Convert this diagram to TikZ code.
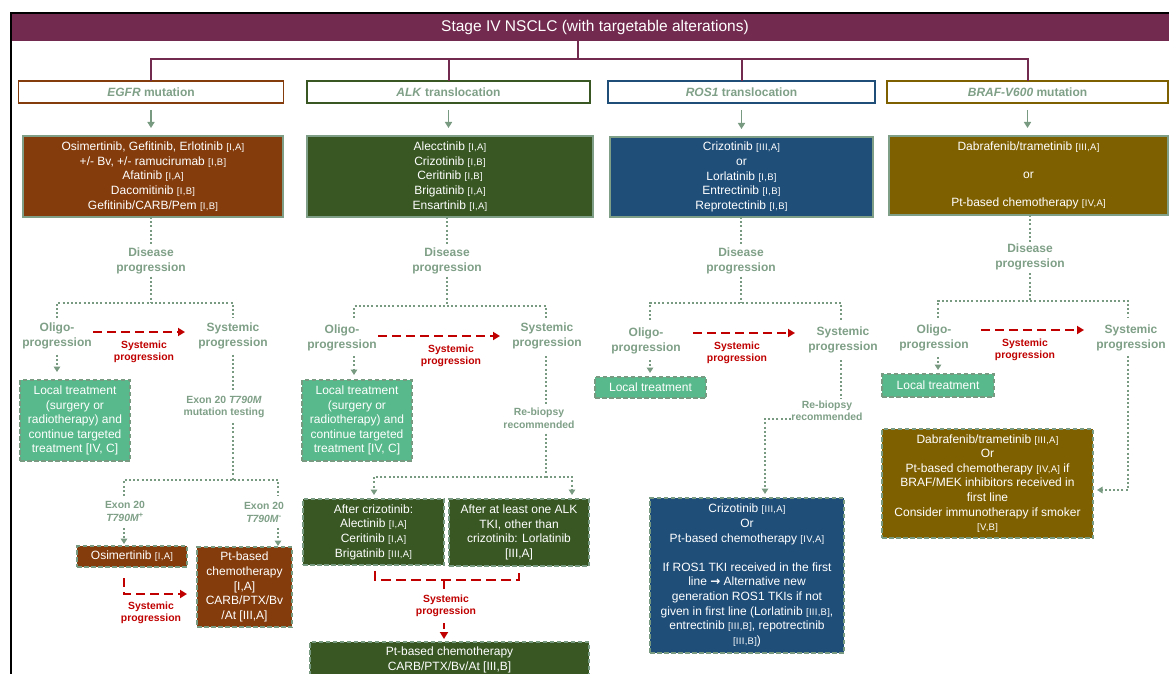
\documentclass[tikz,border=0pt]{standalone}
\usepackage{fontspec}
\setmainfont{Liberation Sans}
\newfontfamily\djv{DejaVu Sans}
\newfontfamily\tagf[LetterSpace=3]{Liberation Sans}
\usetikzlibrary{arrows.meta}
\definecolor{hdr}{HTML}{722A4E}
\definecolor{brn}{HTML}{843C0C}
\definecolor{dgr}{HTML}{385723}
\definecolor{dbl}{HTML}{1F4E79}
\definecolor{olv}{HTML}{7F6000}
\definecolor{sage}{HTML}{7FA087}
\definecolor{sagel}{HTML}{789A80}
\definecolor{mint}{HTML}{58BA8C}
\definecolor{rd}{HTML}{C00000}
\newcommand{\tg}[1]{{\tagf\fontsize{9.5}{14.5}\selectfont[#1]}}
\begin{document}
\begin{tikzpicture}[x=1pt,y=-1pt,
 every node/.style={inner sep=0pt, outer sep=0pt},
 hdrbox/.style={fill=hdr, text=white, font=\fontsize{15.5}{18}\selectfont},
 catbox/.style={draw, line width=1.8pt, fill=white, minimum height=22pt, text=sage, font=\bfseries\fontsize{12}{14}\selectfont},
 drugbox/.style={draw=sage, line width=1.8pt, text=white, align=center, font=\fontsize{12}{14.6}\selectfont},
 dashbox/.style={drugbox, draw=sagel, line width=2pt, dash pattern=on 4.5pt off 2.5pt},
 lbl/.style={text=sage, align=center, font=\bfseries\fontsize{12}{15}\selectfont},
 slbl/.style={text=sage, align=center, font=\bfseries\fontsize{10.4}{12.5}\selectfont},
 rlbl/.style={text=rd, align=center, font=\bfseries\fontsize{10.4}{11.8}\selectfont},
 pline/.style={draw=hdr, line width=2pt},
 garrow/.style={draw=sagel, line width=1.8pt, -{Triangle[width=7pt,length=6pt]}},
 dotl/.style={draw=sagel, line width=2pt, dash pattern=on 2pt off 2.2pt},
 dota/.style={dotl, -{Triangle[width=6.5pt,length=5.5pt]}},
 reda/.style={draw=rd, line width=2.2pt, dash pattern=on 9pt off 5pt},
 redarr/.style={reda, -{Triangle[width=8pt,length=7pt]}},
]
\useasboundingbox (0,0) rectangle (1169,674);
\fill[white] (0,0) rectangle (1169,674);
% frame
\draw[line width=2pt] (11,674) -- (11,13) -- (1169,13);
% header
\node[hdrbox, minimum width=1157pt, minimum height=27pt] (hdr) at (590.5,27.5) {\hspace*{9pt}Stage IV NSCLC (with targetable alterations)};

% category boxes
\node[catbox, draw=brn, minimum width=265pt] (egfr) at (151,92) {\textit{EGFR} mutation};
\node[catbox, draw=dgr, minimum width=283pt] (alk) at (448.5,92) {\textit{ALK} translocation};
\node[catbox, draw=dbl, minimum width=267pt] (ros) at (741.5,92) {\textit{ROS1} translocation};
\node[catbox, draw=olv, minimum width=281pt] (braf) at (1027.5,92) {\textit{BRAF-V600} mutation};

% purple bus
\coordinate (bus) at (578,59);
\draw[pline] (hdr.south -| bus) -- (bus);
\draw[pline] (egfr.north) -- (egfr.north |- bus) -- (braf.north |- bus) -- (braf.north);
\draw[pline] (alk.north |- bus) -- (alk.north);
\draw[pline] (ros.north |- bus) -- (ros.north);

% first-line boxes
\node[drugbox, fill=brn, minimum width=260pt, minimum height=81pt] (egfrd) at (153,176.5)
 {Osimertinib, Gefitinib, Erlotinib \tg{I,A}\\+/- Bv, +/- ramucirumab \tg{I,B}\\Afatinib \tg{I,A}\\Dacomitinib \tg{I,B}\\Gefitinib/CARB/Pem \tg{I,B}};
\node[drugbox, fill=dgr, minimum width=286pt, minimum height=81pt] (alkd) at (450,176.5)
 {Alecctinib \tg{I,A}\\Crizotinib \tg{I,B}\\Ceritinib \tg{I,B}\\Brigatinib \tg{I,A}\\Ensartinib \tg{I,A}};
\node[drugbox, fill=dbl, minimum width=263pt, minimum height=80pt] (rosd) at (741.5,177)
 {Crizotinib \tg{III,A}\\or\\Lorlatinib \tg{I,B}\\Entrectinib \tg{I,B}\\Reprotectinib \tg{I,B}};
\node[drugbox, fill=olv, minimum width=279pt, minimum height=79pt] (brafd) at (1028.5,175.5)
 {Dabrafenib/trametinib \tg{III,A}\\[13.4pt]or\\[13.4pt]Pt-based chemotherapy \tg{IV,A}};

\foreach \c/\d in {egfr/egfrd, alk/alkd, ros/rosd, braf/brafd}
 \draw[garrow, shorten <=7pt, shorten >=8pt] (\c.south) -- (\c.south |- \d.north);

% ---------------- EGFR column
\node[lbl] (edp) at (151,260.5) {Disease\\progression};
\node[lbl] (eol) at (57,335.5) {Oligo-\\progression};
\node[lbl] (esy) at (233,335.5) {Systemic\\progression};
\node[rlbl] (ered) at (144,351.5) {Systemic\\progression};
\node[dashbox, fill=mint, minimum width=110pt, minimum height=81pt] (elt) at (75,420.5)
 {Local treatment\\(surgery or\\radiotherapy) and\\continue targeted\\treatment [IV, C]};
\node[slbl] (ex) at (224,407) {Exon 20 \textit{T790M}\\mutation testing};
\node[slbl] (exp) at (125,511.5) {Exon 20\\\textit{T790M}\textsuperscript{+}};
\node[slbl] (exm) at (264,512.5) {Exon 20\\\textit{T790M}\textsuperscript{-}};
\node[dashbox, fill=brn, minimum width=110pt, minimum height=21pt] (eos) at (132,556.5) {Osimertinib \tg{I,A}};
\node[dashbox, fill=brn, minimum width=95pt, minimum height=80pt] (ept) at (244.5,587)
 {Pt-based\\chemotherapy\\{[I,A]}\\CARB/PTX/Bv\\/At [III,A]};
\node[rlbl] (eredb) at (151,613) {Systemic\\progression};

\draw[dotl, shorten >=2pt] (egfrd.south -| edp) -- (edp.north);
\coordinate (es) at (151,303);
\coordinate (esL) at (57,303);
\coordinate (esR) at (233,303);
\draw[dotl, shorten <=3pt] (edp.south) -- (es);
\draw[dotl, shorten <=4pt, shorten >=4pt] (eol.north) -- (esL) -- (esR) -- (esy.north);
\coordinate (er1) at (93,332);
\coordinate (er2) at (185,332);
\draw[redarr] (er1) -- (er2);
\draw[dota, shorten <=6pt, shorten >=8pt] (eol.south) -- (elt.north -| eol.south);
\draw[dotl, shorten <=6pt, shorten >=5pt] (esy.south) -- (esy.south |- ex.north);
\coordinate (exs) at (233,480);
\draw[dotl, shorten <=5pt] (esy.south |- ex.south) -- (exs);
\coordinate (exL) at (124,480);
\coordinate (exR) at (278,480);
\coordinate (exLb) at (124,496);
\coordinate (exRb) at (278,496);
\draw[dotl] (exLb) -- (exL) -- (exR) -- (exRb);
\coordinate (ea1) at (124,528);
\coordinate (ea2) at (278,528);
\draw[dota, shorten >=2pt] (ea1) -- (ea1 |- eos.north);
\draw[dota, shorten >=1pt] (ea2) -- (ea2 |- ept.north);
\coordinate (eb1) at (124,578);
\coordinate (eb2) at (124,594);
\draw[redarr, shorten >=10pt] (eb1) -- (eb2) -- (eb2 -| ept.west);

% ---------------- ALK column
\node[lbl] (adp) at (447,260.5) {Disease\\progression};
\node[lbl] (aol) at (342,338) {Oligo-\\progression};
\node[lbl] (asy) at (547,335.5) {Systemic\\progression};
\node[rlbl] (ared) at (451,355.5) {Systemic\\progression};
\node[dashbox, fill=mint, minimum width=110pt, minimum height=81pt] (alt) at (357,420.5)
 {Local treatment\\(surgery or\\radiotherapy) and\\continue targeted\\treatment [IV, C]};
\node[slbl] (arb) at (539,418.5) {Re-biopsy\\recommended};
\node[dashbox, fill=dgr, minimum width=141pt, minimum height=66pt] (aac) at (373.5,532)
 {After crizotinib:\\Alectinib \tg{I,A}\\Ceritinib \tg{I,A}\\Brigatinib \tg{III,A}};
\node[dashbox, fill=dgr, minimum width=140pt, minimum height=67pt] (aal) at (519,532.5)
 {After at least one ALK\\TKI, other than\\crizotinib: Lorlatinib\\{[III,A]}};
\node[rlbl] (aredb) at (446,605.5) {Systemic\\progression};
\node[dashbox, fill=dgr, minimum width=279pt, minimum height=36pt] (apt) at (449.5,660)
 {Pt-based chemotherapy\\CARB/PTX/Bv/At [III,B]};

\draw[dotl, shorten >=2pt] (alkd.south -| adp) -- (adp.north);
\coordinate (as) at (447,306);
\coordinate (asL) at (354,306);
\coordinate (asR) at (546,306);
\coordinate (asLb) at (354,318);
\coordinate (asRb) at (546,318);
\draw[dotl, shorten <=3pt] (adp.south) -- (as);
\draw[dotl] (asLb) -- (asL) -- (asR) -- (asRb);
\coordinate (ar1) at (378,336);
\coordinate (ar2) at (500,336);
\draw[redarr] (ar1) -- (ar2);
\coordinate (aoa) at (354,356);
\draw[dota, shorten >=5pt] (aoa) -- (aoa |- alt.north);
\coordinate (asa) at (546,356);
\draw[dotl, shorten >=4pt] (asa) -- (asa |- arb.north);
\coordinate (abs) at (546,477);
\coordinate (abL) at (374,477);
\coordinate (abR) at (572,477);
\draw[dotl, shorten <=5pt] (asa |- arb.south) -- (abs);
\draw[dota, shorten >=4pt] (abs) -- (abR) -- (abR |- aal.north);
\draw[dota, shorten >=4pt] (abs) -- (abL) -- (abL |- aac.north);
\coordinate (ab1) at (375,571);
\coordinate (ab2) at (375,580);
\coordinate (ab3) at (519,580);
\coordinate (ab4) at (519,571);
\coordinate (abm) at (444,580);
\coordinate (abm2) at (444,589);
\draw[reda, dash pattern=on 10pt off 5pt] (ab1) -- (ab2) -- (ab3) -- (ab4);
\draw[reda] (abm) -- (abm2);
\coordinate (aa1) at (444,623);
\draw[redarr, dash pattern=on 6pt off 4pt, shorten >=3pt] (aa1) -- (aa1 |- apt.north);

% ---------------- ROS1 column
\node[lbl] (rdp) at (741,260.5) {Disease\\progression};
\node[lbl] (rol) at (646,340.5) {Oligo-\\progression};
\node[lbl] (rsy) at (843,339.5) {Systemic\\progression};
\node[rlbl] (rred) at (737,352.5) {Systemic\\progression};
\node[dashbox, fill=mint, minimum width=111pt, minimum height=21pt] (rlt) at (650.5,387.5) {Local treatment};
\node[slbl] (rrb) at (827,411) {Re-biopsy\\recommended};
\node[dashbox, fill=dbl, minimum width=194pt, minimum height=155pt] (rfin) at (747,575.5)
 {Crizotinib \tg{III,A}\\Or\\Pt-based chemotherapy \tg{IV,A}\\[14.5pt]If ROS1 TKI received in the first\\line {\djv\bfseries →} Alternative new\\generation ROS1 TKIs if not\\given in first line (Lorlatinib \tg{III,B},\\entrectinib \tg{III,B}, repotrectinib\\\tg{III,B})};

\draw[dotl, shorten >=2pt] (rosd.south -| rdp) -- (rdp.north);
\coordinate (rs) at (741,303);
\coordinate (rsL) at (650,303);
\coordinate (rsR) at (841,303);
\coordinate (rsLb) at (650,320);
\coordinate (rsRb) at (841,320);
\draw[dotl, shorten <=3pt] (rdp.south) -- (rs);
\draw[dotl] (rsLb) -- (rsL) -- (rsR) -- (rsRb);
\coordinate (rr1) at (693,333);
\coordinate (rr2) at (795,333);
\draw[redarr] (rr1) -- (rr2);
\coordinate (roa) at (650,360);
\draw[dota, shorten >=4pt] (roa) -- (roa |- rlt.north);
\coordinate (rsa) at (841,360);
\draw[dotl, shorten >=3pt] (rsa) -- (rsa |- rrb.north);
\coordinate (rb1) at (791,419);
\coordinate (rb2) at (765,419);
\draw[dota, shorten >=4pt] (rb1) -- (rb2) -- (rb2 |- rfin.north);

% ---------------- BRAF column
\node[lbl] (bdp) at (1030,257) {Disease\\progression};
\node[lbl] (bol) at (934,338) {Oligo-\\progression};
\node[lbl] (bsy) at (1131,337.5) {Systemic\\progression};
\node[rlbl] (bred) at (1025,350) {Systemic\\progression};
\node[dashbox, fill=mint, minimum width=112pt, minimum height=23pt] (blt) at (938,385.5) {Local treatment};
\node[dashbox, fill=olv, minimum width=211pt, minimum height=109pt] (bfin) at (987.5,483.5)
 {Dabrafenib/trametinib \tg{III,A}\\Or\\Pt-based chemotherapy \tg{IV,A} if\\BRAF/MEK inhibitors received in\\first line\\Consider immunotherapy if smoker\\\tg{V,B}};

\draw[dotl, shorten >=2pt] (brafd.south -| bdp) -- (bdp.north);
\coordinate (bs) at (1030,301);
\coordinate (bsL) at (938,301);
\coordinate (bsR) at (1128,301);
\coordinate (bsLb) at (938,318);
\coordinate (bsRb) at (1128,318);
\draw[dotl, shorten <=3pt] (bdp.south) -- (bs);
\draw[dotl] (bsLb) -- (bsL) -- (bsR) -- (bsRb);
\coordinate (br1) at (981,330);
\coordinate (br2) at (1084,330);
\draw[redarr] (br1) -- (br2);
\coordinate (boa) at (938,357);
\draw[dota, shorten >=4pt] (boa) -- (boa |- blt.north);
\coordinate (bsa) at (1128,356);
\coordinate (bsc) at (1128,490);
\draw[dota, shorten >=4pt] (bsa) -- (bsc) -- (bsc -| bfin.east);
\end{tikzpicture}
\end{document}
